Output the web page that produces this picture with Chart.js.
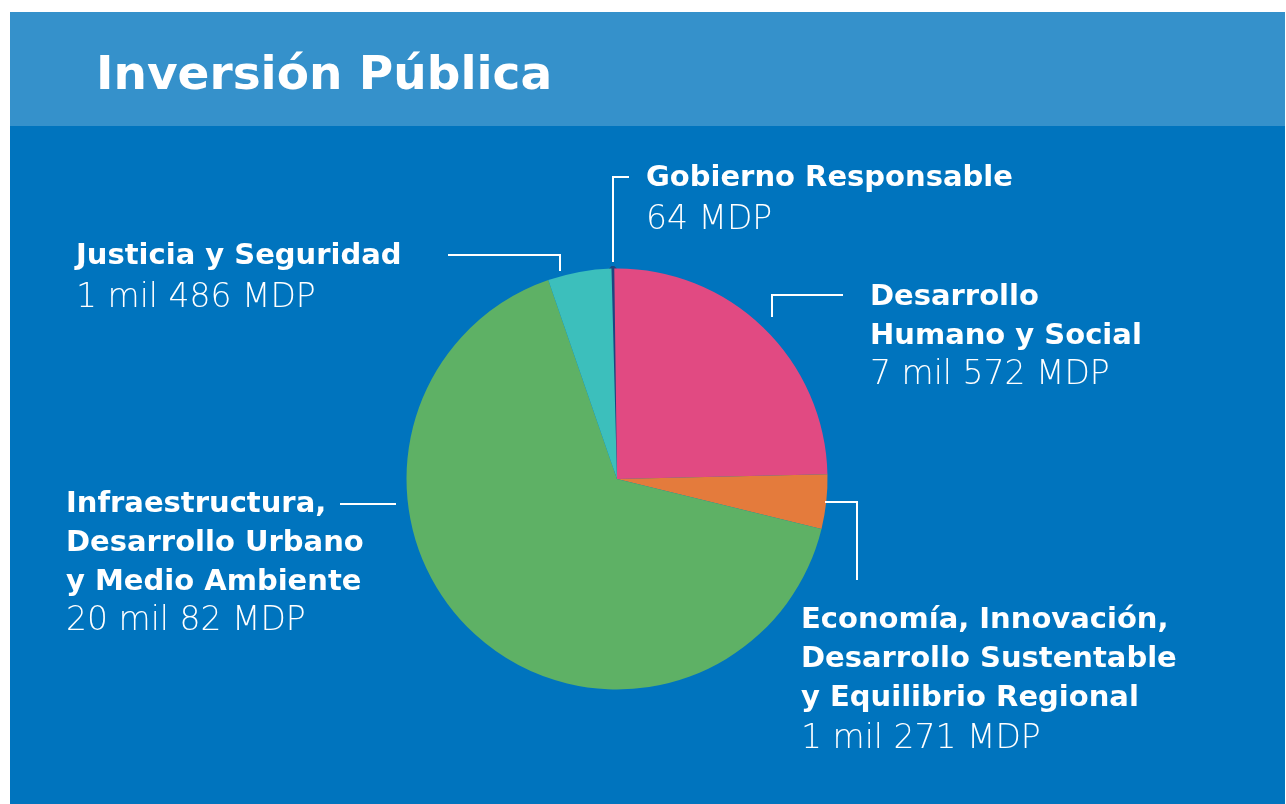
<!DOCTYPE html>
<html>
<head>
<meta charset="utf-8">
<script src="https://cdn.jsdelivr.net/npm/chart.js"></script>
<style>
  html, body { margin: 0; padding: 0; background: #ffffff; }
  canvas { display: block; }
</style>
</head>
<body>
<canvas id="inversionChart" width="1286" height="804"></canvas>
<script>
// Inversión pública por eje (millones de pesos)
const categories = [
  "Gobierno Responsable",
  "Desarrollo Humano y Social",
  "Economía, Innovación, Desarrollo Sustentable y Equilibrio Regional",
  "Infraestructura, Desarrollo Urbano y Medio Ambiente",
  "Justicia y Seguridad"
];
const values = [64, 7572, 1271, 20082, 1486];
const sliceColors = ["#1d4581", "#e14a82", "#e47b3c", "#5eb165", "#3cbfbc"];

// how each category name is broken over lines
const nameLines = [
  ["Gobierno Responsable"],
  ["Desarrollo", "Humano y Social"],
  ["Economía, Innovación,", "Desarrollo Sustentable", "y Equilibrio Regional"],
  ["Infraestructura,", "Desarrollo Urbano", "y Medio Ambiente"],
  ["Justicia y Seguridad"]
];

// label placement: x, first baseline, line step, value gap
const labelPos = [
  { x: 646, y: 186, step: 39, gap: 43 },
  { x: 870, y: 305, step: 39, gap: 40 },
  { x: 801, y: 628, step: 39, gap: 42 },
  { x: 66,  y: 512, step: 39, gap: 40 },
  { x: 76,  y: 264, step: 39, gap: 43 }
];

// leader lines from each label to its slice
const leaders = [
  [[629, 177], [613, 177], [613, 262]],
  [[843, 295], [772, 295], [772, 317]],
  [[825, 502], [857, 502], [857, 580]],
  [[340, 504], [396, 504]],
  [[448, 255], [560, 255], [560, 271]]
];

function formatMDP(v) {
  const miles = Math.floor(v / 1000);
  const resto = v % 1000;
  return (miles > 0 ? miles + " mil " + resto : String(resto)) + " MDP";
}

const backgroundPanel = {
  id: "backgroundPanel",
  beforeDraw(chart) {
    const ctx = chart.ctx;
    ctx.save();
    ctx.fillStyle = "#ffffff";
    ctx.fillRect(0, 0, chart.width, chart.height);
    ctx.fillStyle = "#0074be";
    ctx.fillRect(10, 12, 1275, 792);
    ctx.fillStyle = "#3591cb";
    ctx.fillRect(10, 12, 1275, 114);
    ctx.fillStyle = "#ffffff";
    ctx.font = "bold 47px 'DejaVu Sans'";
    ctx.textBaseline = "alphabetic";
    ctx.fillText("Inversión Pública", 96, 89);
    ctx.restore();
  }
};

const sliceLabels = {
  id: "sliceLabels",
  afterDraw(chart) {
    const ctx = chart.ctx;
    ctx.save();
    ctx.strokeStyle = "#ffffff";
    ctx.lineWidth = 2;
    leaders.forEach(pts => {
      ctx.beginPath();
      pts.forEach((p, i) => i === 0 ? ctx.moveTo(p[0], p[1]) : ctx.lineTo(p[0], p[1]));
      ctx.stroke();
    });

    ctx.fillStyle = "#ffffff";
    ctx.textBaseline = "alphabetic";
    values.forEach((v, i) => {
      const pos = labelPos[i];
      ctx.font = "bold 29px 'DejaVu Sans'";
      nameLines[i].forEach((line, j) => {
        ctx.fillText(line, pos.x, pos.y + j * pos.step);
      });
      const last = pos.y + (nameLines[i].length - 1) * pos.step;
      ctx.font = "200 33px 'DejaVu Sans'";
      ctx.fillText(formatMDP(v), pos.x, last + pos.gap);
    });
    ctx.restore();
  }
};

new Chart("inversionChart", {
  type: "pie",
  data: {
    labels: categories,
    datasets: [{
      data: values,
      backgroundColor: sliceColors,
      borderColor: sliceColors,
      borderWidth: [5, 0, 0, 0, 0]
    }]
  },
  options: {
    responsive: false,
    animation: false,
    rotation: -1.5,
    layout: {
      padding: { left: 404, right: 456, top: 266, bottom: 112 }
    },
    plugins: {
      legend: { display: false },
      tooltip: { enabled: false }
    }
  },
  plugins: [backgroundPanel, sliceLabels]
});
</script>
</body>
</html>
